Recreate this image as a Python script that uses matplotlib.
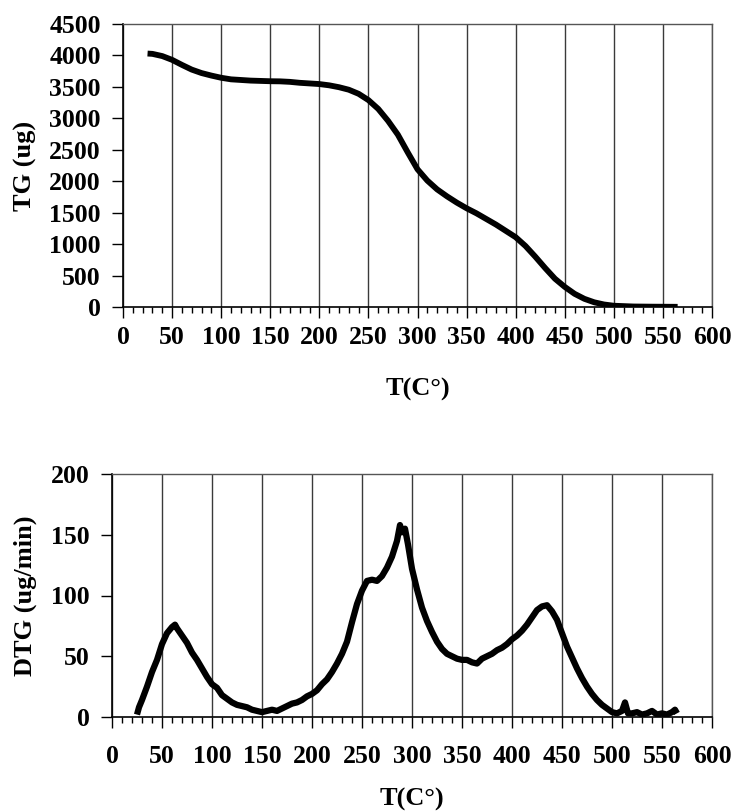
import matplotlib
matplotlib.use("Agg")
import matplotlib.pyplot as plt
from matplotlib.ticker import MultipleLocator

# ---- TG curve (ug) ----
tg_T = [25, 30, 40, 50, 60, 70, 80, 90, 100, 110, 120, 130, 140, 150, 160, 170,
        180, 190, 200, 210, 220, 230, 240, 250, 260, 270, 280, 290, 300, 310,
        320, 330, 340, 350, 360, 370, 380, 390, 400, 410, 420, 430, 440, 450,
        460, 470, 480, 490, 500, 520, 540, 565]
tg_W = [4030, 4025, 3990, 3930, 3850, 3775, 3720, 3680, 3645, 3620, 3610, 3600,
        3595, 3590, 3588, 3580, 3565, 3555, 3545, 3525, 3495, 3455, 3390, 3290,
        3150, 2960, 2740, 2460, 2190, 2010, 1870, 1760, 1660, 1570, 1490, 1400,
        1310, 1210, 1110, 970, 800, 620, 450, 320, 210, 130, 75, 40, 20, 8, 5, 3]

# ---- DTG curve (ug/min) ----
dtg_T = [25, 27, 30, 35, 40, 45, 50, 55, 60, 63, 65, 70, 75, 80, 85, 90, 95, 100,
         105, 110, 115, 120, 125, 130, 135, 140, 145, 150, 155, 160, 165, 170,
         175, 180, 185, 190, 195, 200, 205, 210, 215, 220, 225, 230, 235, 240,
         245, 250, 255, 260, 265, 270, 275, 280, 285, 288, 290, 293, 296, 300,
         305, 310, 315, 320, 325, 330, 335, 340, 345, 350, 355, 360, 365, 370,
         375, 380, 385, 390, 395, 400, 405, 410, 415, 420, 425, 430, 435, 440,
         445, 450, 455, 460, 465, 470, 475, 480, 485, 490, 495, 500, 505, 510,
         513, 516, 520, 525, 530, 535, 540, 545, 550, 555, 560, 563, 565]
dtg_D = [2, 8, 14, 25, 37, 47, 60, 69, 74, 76, 73, 67, 61, 53, 47, 40, 33, 27,
         24, 18, 15, 12, 10, 9, 8, 6, 5, 4, 5, 6, 5, 7, 9, 11, 12, 14, 17, 19,
         22, 27, 31, 37, 44, 52, 62, 78, 93, 104, 112, 113, 112, 116, 123, 132,
         145, 158, 152, 155, 142, 122, 105, 90, 79, 70, 62, 56, 52, 50, 48, 47,
         47, 45, 44, 48, 50, 52, 55, 57, 60, 64, 67, 71, 76, 82, 88, 91, 92, 87,
         80, 69, 58, 49, 40, 32, 25, 19, 14, 10, 7, 4, 3, 5, 12, 3, 3, 4, 2, 3,
         5, 2, 3, 2, 4, 6, 3]

TICK_FS = 18.5
LAB_FS = 19
plt.rcParams.update({"font.family": "Liberation Serif", "font.weight": "bold",
                     "font.size": TICK_FS})

fig = plt.figure(figsize=(7.34, 8.11), dpi=100)
W, H = 734, 811
ax1 = fig.add_axes([123 / W, 1 - 307 / H, 589 / W, 283 / H])
ax2 = fig.add_axes([112 / W, 1 - 717 / H, 600 / W, 243 / H])


def style(ax, ymax, ystep, xpad):
    ax.set_xlim(0, 600)
    ax.set_ylim(0, ymax)
    ax.xaxis.set_major_locator(MultipleLocator(50))
    ax.xaxis.set_minor_locator(MultipleLocator(10))
    ax.yaxis.set_major_locator(MultipleLocator(ystep))
    ax.grid(axis="x", which="major", color="#3a3a3a", lw=1.0)
    ax.set_axisbelow(True)
    ax.tick_params(axis="x", which="major", direction="out", length=8, width=1, pad=xpad)
    ax.tick_params(axis="x", which="minor", direction="out", length=4, width=1)
    ax.tick_params(axis="y", which="major", direction="out", length=8, width=1, pad=8)
    ax.tick_params(top=False, right=False)
    for s in ["left", "bottom"]:
        ax.spines[s].set_color("black")
        ax.spines[s].set_linewidth(1.2)
    for s in ["top", "right"]:
        ax.spines[s].set_color("#555555")
        ax.spines[s].set_linewidth(1.0)
    for lab in ax.get_xticklabels() + ax.get_yticklabels():
        lab.set_fontweight("bold")


ax1.plot(tg_T, tg_W, color="black", lw=4.2, solid_capstyle="butt")
style(ax1, 4500, 500, 6)
ax1.set_xlabel("T(C°)", fontsize=LAB_FS, fontweight="bold")
ax1.xaxis.set_label_coords(0.5, (307 - 389) / 283)
ax1.xaxis.label.set_va("center")
ax1.set_ylabel("TG (ug)", fontsize=LAB_FS, fontweight="bold")
ax1.yaxis.set_label_coords((25 - 123) / 589, 0.5)
ax1.yaxis.label.set_va("center")

ax2.plot(dtg_T, dtg_D, color="black", lw=4.5, solid_capstyle="butt")
style(ax2, 200, 50, 12)
ax2.set_xlabel("T(C°)", fontsize=LAB_FS, fontweight="bold")
ax2.xaxis.set_label_coords(0.5, (717 - 799) / 243)
ax2.xaxis.label.set_va("center")
ax2.set_ylabel("DTG (ug/min)", fontsize=LAB_FS, fontweight="bold")
ax2.yaxis.set_label_coords((25 - 112) / 600, 0.5)
ax2.yaxis.label.set_va("center")

fig.savefig("out.png", dpi=100)
